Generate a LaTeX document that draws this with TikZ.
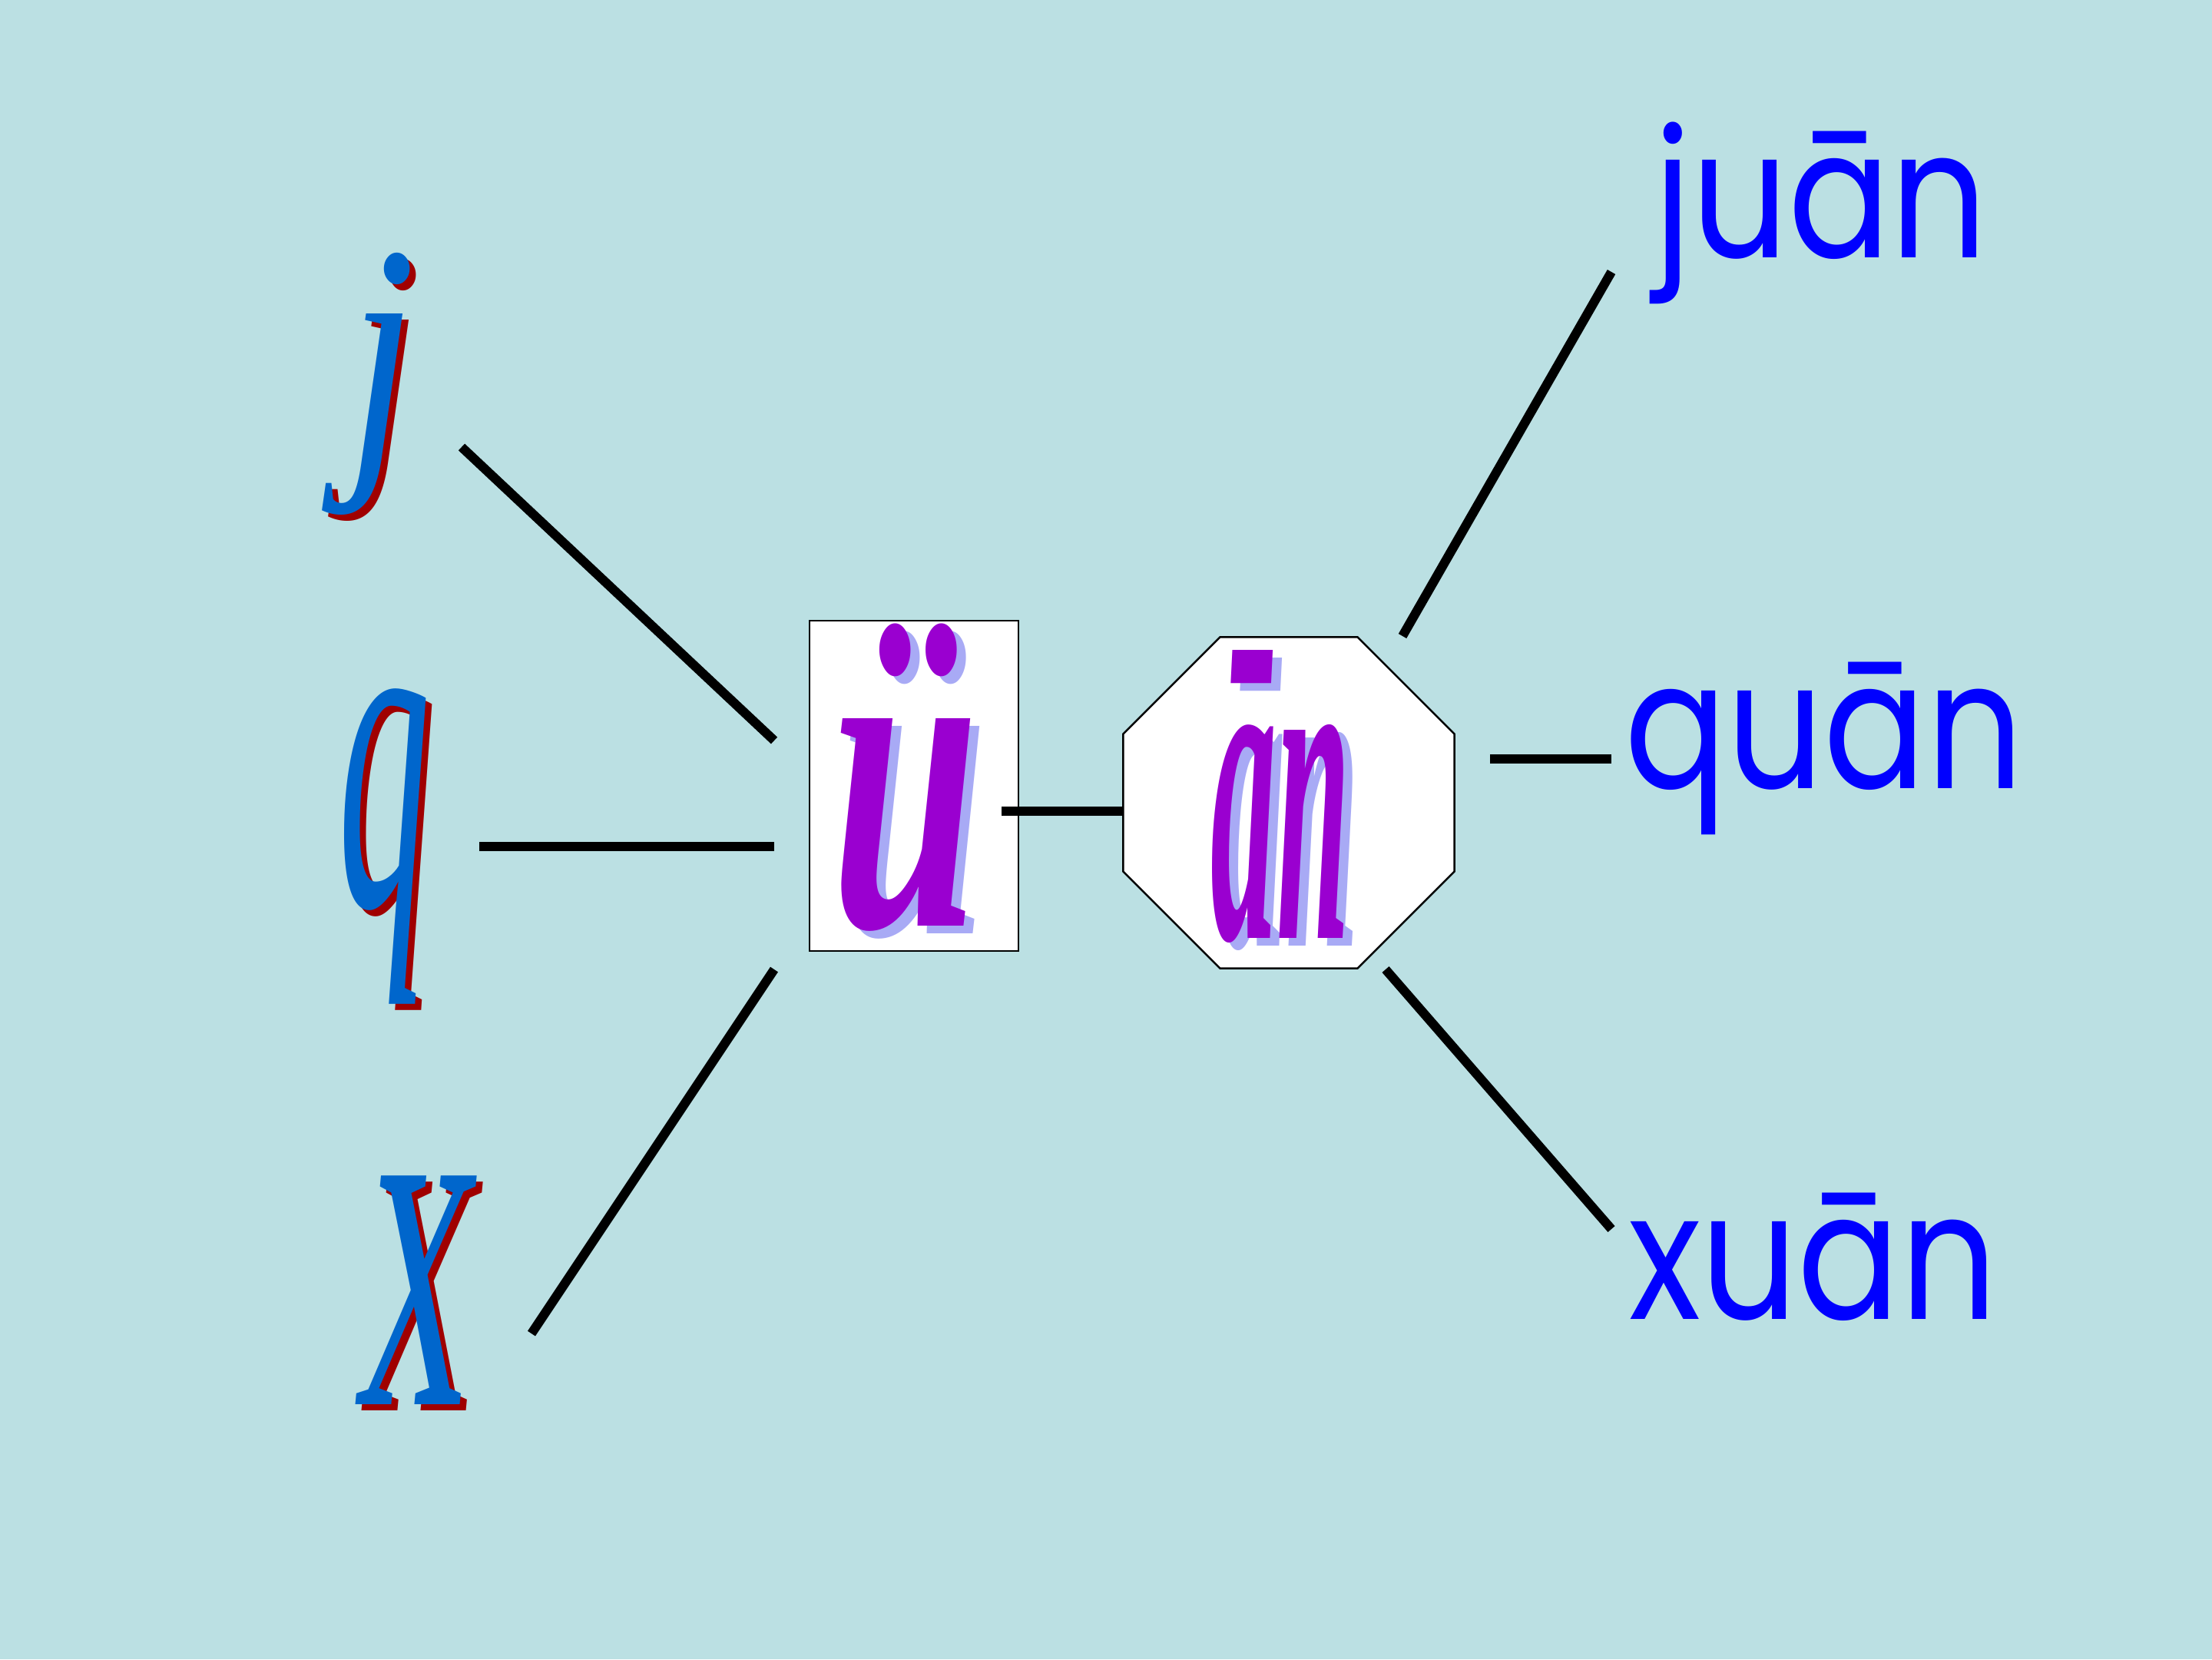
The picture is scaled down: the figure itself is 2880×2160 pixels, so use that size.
\documentclass[tikz,border=0pt]{standalone}
\usepackage{fontspec}
\usepackage{graphicx}
\usetikzlibrary{shapes.geometric}
\setmainfont{Liberation Serif}
\newfontfamily\pyfont{Poppins}
\newfontfamily\slfont{Liberation Serif}[FakeSlant=0.22]
\definecolor{bg}{HTML}{BBE0E3}
\definecolor{smblue}{HTML}{0066CC}
\definecolor{smred}{HTML}{A00000}
\definecolor{ympurple}{HTML}{9A00D0}
\definecolor{ymshadow}{HTML}{A8AAF5}
\definecolor{pyblue}{HTML}{0000FF}
\newcommand{\pyword}[1]{\scalebox{0.85}[1]{#1}}
\begin{document}
\begin{tikzpicture}[x=1pt,y=-1pt,
  link/.style={line width=12pt,black},
  glyph/.style={inner sep=0pt,outer sep=0pt},
  pinyin/.style={inner sep=0pt,anchor=base west,text=pyblue,font=\pyfont\fontsize{232}{232}\selectfont}]
\useasboundingbox (0,0) rectangle (2880,2160);
\fill[bg] (0,0) rectangle (2880,2160);
% initials
\node[glyph,text=smred] (jsh) at (506,508) {\resizebox*{88pt}{340pt}{\itshape j}};
\node[glyph,text=smblue] (j) at (498,500) {\resizebox*{88pt}{340pt}{\itshape j}};
\node[glyph,text=smred] (qsh) at (508,1110) {\resizebox*{120pt}{409pt}{\itshape q}};
\node[glyph,text=smblue] (q) at (500,1102) {\resizebox*{120pt}{409pt}{\itshape q}};
\node[glyph,text=smred] (xsh) at (539,1688) {\resizebox*{142pt}{296pt}{\slfont x}};
\node[glyph,text=smblue] (x) at (531,1680) {\resizebox*{142pt}{296pt}{\slfont x}};
% finals
\node[draw,line width=2.5pt,fill=white,minimum width=272pt,minimum height=430pt,inner sep=0pt] (ubox) at (1190,1023) {};
\node[glyph,text=ymshadow] (ush) at (1191,1022) {\resizebox*{192pt}{399pt}{\bfseries\itshape ü}};
\node[glyph,text=ympurple] (u) at (1179,1012) {\resizebox*{192pt}{399pt}{\bfseries\itshape ü}};
\node[draw,fill=white,line width=2.5pt,regular polygon,regular polygon sides=8,minimum size=467pt,inner sep=0pt] (oct) at (1678,1045) {};
\node[glyph,text=ymshadow] (ansh) at (1679,1047) {\resizebox*{181pt}{380pt}{\bfseries\itshape ān}};
\node[glyph,text=ympurple] (an) at (1667,1037) {\resizebox*{181pt}{380pt}{\bfseries\itshape ān}};
% syllables
\node[pinyin] (juan) at (2153,335) {\pyword{juān}};
\node[pinyin] (quan) at (2115,1026) {\pyword{quān}};
\node[pinyin] (xuan) at (2120,1717) {\pyword{xuān}};
% connector ends
\coordinate (j1) at (601,582);   \coordinate (j2) at (1008,964);
\coordinate (q1) at (624,1102);  \coordinate (q2) at (1008,1102);
\coordinate (x1) at (692,1736);  \coordinate (x2) at (1008,1262);
\coordinate (u1) at (1304,1056);
\coordinate (a1) at (1826,828);  \coordinate (a2) at (2098,354);
\coordinate (b1) at (1940,988);  \coordinate (b2) at (2098,988);
\coordinate (c1) at (1804,1262); \coordinate (c2) at (2098,1600);
\draw[link] (j1) -- (j2);
\draw[link] (q1) -- (q2);
\draw[link] (x1) -- (x2);
\draw[link] (u1) -- (u1 -| oct.west);
\draw[link] (a1) -- (a2);
\draw[link] (b1) -- (b2);
\draw[link] (c1) -- (c2);
\end{tikzpicture}
\end{document}
